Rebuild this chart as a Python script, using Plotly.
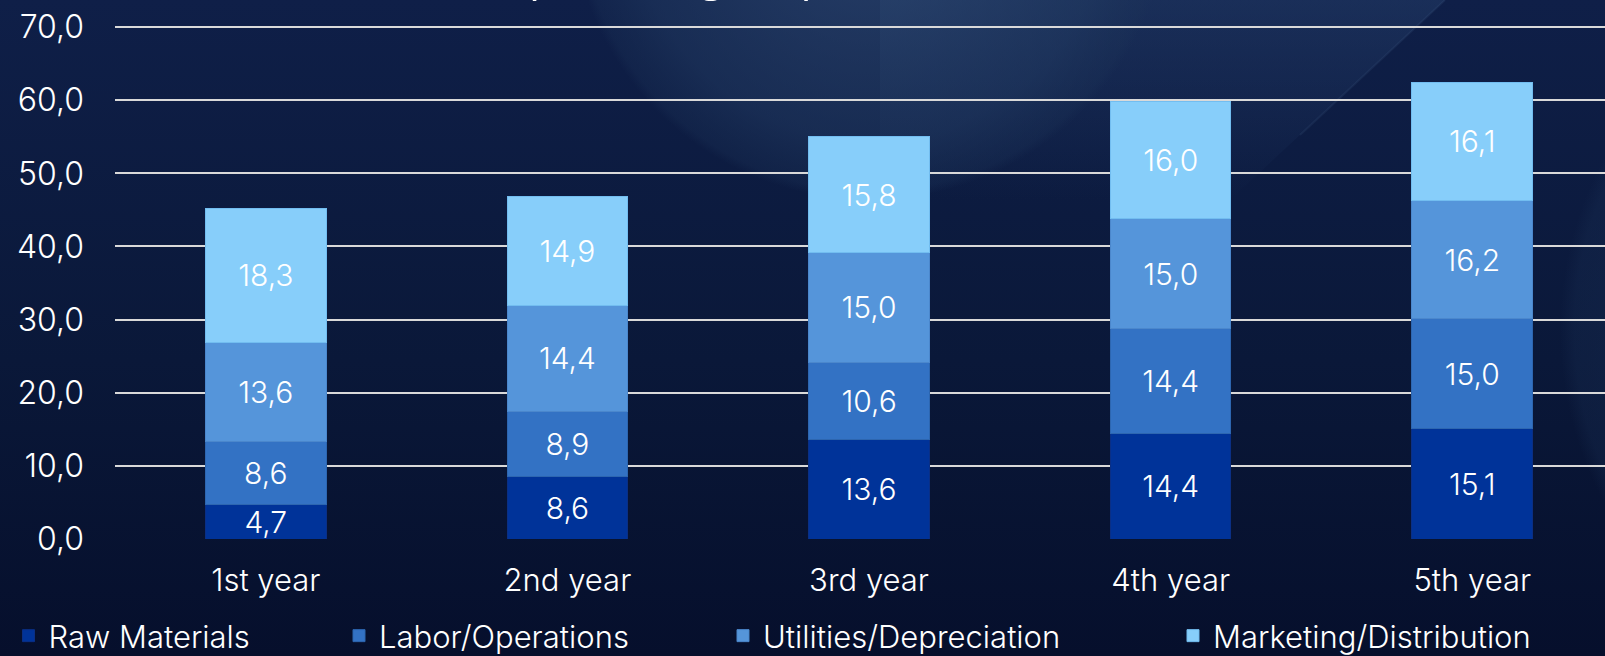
import base64
import plotly.graph_objects as go

# ---- data ----
categories = ["1st year", "2nd year", "3rd year", "4th year", "5th year"]
raw_materials = [4.7, 8.6, 13.6, 14.4, 15.1]
labor_operations = [8.6, 8.9, 10.6, 14.4, 15.0]
utilities_depreciation = [13.6, 14.4, 15.0, 15.0, 16.2]
marketing_distribution = [18.3, 14.9, 15.8, 16.0, 16.1]
series_names = ["Raw Materials", "Labor/Operations", "Utilities/Depreciation", "Marketing/Distribution"]
title_text = "Operating Expenses"

W, H = 1605, 656
ML, MR, MT, MB = 115, 0, 26, 117
PW, PH = W - ML - MR, H - MT - MB

FONT = "Inter, Lato, 'Open Sans', sans-serif"
colors = ["#003399", "#3372C4", "#5595DA", "#87CEFA"]
edge = ["#0a2f85", "#2d66b0", "#4b87cc", "#72bdf0"]

# ---- background artwork (svg) ----
svg = f"""<svg xmlns="http://www.w3.org/2000/svg" width="{W}" height="{H}" viewBox="0 0 {W} {H}">
<defs>
<linearGradient id="bg" x1="0" y1="0" x2="0" y2="1">
<stop offset="0" stop-color="#0f1f48"/><stop offset="0.55" stop-color="#0a1839"/><stop offset="1" stop-color="#060f2c"/>
</linearGradient>
<radialGradient id="g1" cx="0.5" cy="0.5" r="0.5">
<stop offset="0" stop-color="#34507a" stop-opacity="0.7"/>
<stop offset="0.8" stop-color="#223b62" stop-opacity="0.5"/>
<stop offset="0.97" stop-color="#1c3358" stop-opacity="0.3"/>
<stop offset="1" stop-color="#1c3358" stop-opacity="0"/>
</radialGradient>
<linearGradient id="band" x1="0" y1="0" x2="0" y2="1">
<stop offset="0" stop-color="#2a4672" stop-opacity="0.4"/><stop offset="1" stop-color="#2a4672" stop-opacity="0"/>
</linearGradient>
<radialGradient id="g2" cx="0.5" cy="0.5" r="0.5">
<stop offset="0" stop-color="#2a4672" stop-opacity="0.45"/>
<stop offset="0.96" stop-color="#1c3358" stop-opacity="0.25"/>
<stop offset="1" stop-color="#1c3358" stop-opacity="0"/>
</radialGradient>
</defs>
<rect width="{W}" height="{H}" fill="url(#bg)"/>
<polygon points="880,0 1445,0 1230,200 880,200" fill="url(#band)"/>
<line x1="1445" y1="0" x2="1300" y2="135" stroke="#5b7aa8" stroke-opacity="0.12" stroke-width="2"/>
<circle cx="870" cy="-100" r="300" fill="url(#g1)"/>
<circle cx="1920" cy="330" r="360" fill="url(#g2)"/>
</svg>"""
bg_src = "data:image/svg+xml;base64," + base64.b64encode(svg.encode()).decode()

fig = go.Figure()
all_series = [raw_materials, labor_operations, utilities_depreciation, marketing_distribution]
legend_ids = ["legend", "legend2", "legend3", "legend4"]
for name, vals, c, e, lg in zip(series_names, all_series, colors, edge, legend_ids):
    fig.add_trace(go.Bar(
        x=categories, y=vals, name=name, legend=lg,
        marker=dict(color=c, line=dict(color=e, width=1)),
        texttemplate="%{y:.1f}", textposition="inside", insidetextanchor="middle",
        textangle=0, constraintext="none",
        textfont=dict(color="white", size=30, family=FONT, weight=300),
        hovertemplate="%{x}<br>" + name + ": %{y:.1f}<extra></extra>",
    ))

legend_px = [8.5, 339, 723, 1173]
legend_y = (MT + PH - 636) / PH
legends = {}
for lg, px in zip(legend_ids, legend_px):
    legends[lg] = dict(
        orientation="h", x=(px - ML) / PW, y=legend_y, xanchor="left", yanchor="middle",
        font=dict(color="white", size=31, family=FONT, weight=300), bgcolor="rgba(0,0,0,0)",
        borderwidth=0,
    )

fig.update_layout(
    width=W, height=H, autosize=False,
    margin=dict(l=ML, r=MR, t=MT, b=MB, pad=0, autoexpand=False),
    paper_bgcolor="#0a1839", plot_bgcolor="rgba(0,0,0,0)",
    barmode="stack", bargap=0.6,
    separators=",.",
    font=dict(family=FONT, color="white", size=31, weight=300),
    uniformtext=dict(minsize=30, mode="show"),
    showlegend=True,
    images=[dict(source=bg_src, xref="paper", yref="paper",
                 x=-ML / PW, y=1 + MT / PH, sizex=W / PW, sizey=H / PH,
                 xanchor="left", yanchor="top", sizing="stretch", layer="below")],
    xaxis=dict(type="category", range=[-0.5, 4.44], showgrid=False, zeroline=False,
               showline=False, ticks="", ticklabelstandoff=20,
               tickfont=dict(color="white", size=31, family=FONT, weight=300)),
    yaxis=dict(range=[0, 70.14], tickvals=[0, 10, 20, 30, 40, 50, 60, 70], tickformat=".1f",
               showgrid=True, gridcolor="#d9d9d9", gridwidth=2, zeroline=False, showline=False,
               ticks="", ticklabelstandoff=30,
               tickfont=dict(color="white", size=32, family=FONT, weight=300)),
    annotations=[dict(text=title_text, xref="paper", yref="paper",
                      x=(732 - ML) / PW, y=1 + (MT - 4) / PH, xanchor="center", yanchor="bottom",
                      showarrow=False, borderpad=0,
                      font=dict(color="white", size=52, family=FONT))],
    **legends,
)

fig.write_html("out.html", config={"displayModeBar": False},
               post_script="document.body.style.margin='0';document.body.style.overflow='hidden';")
